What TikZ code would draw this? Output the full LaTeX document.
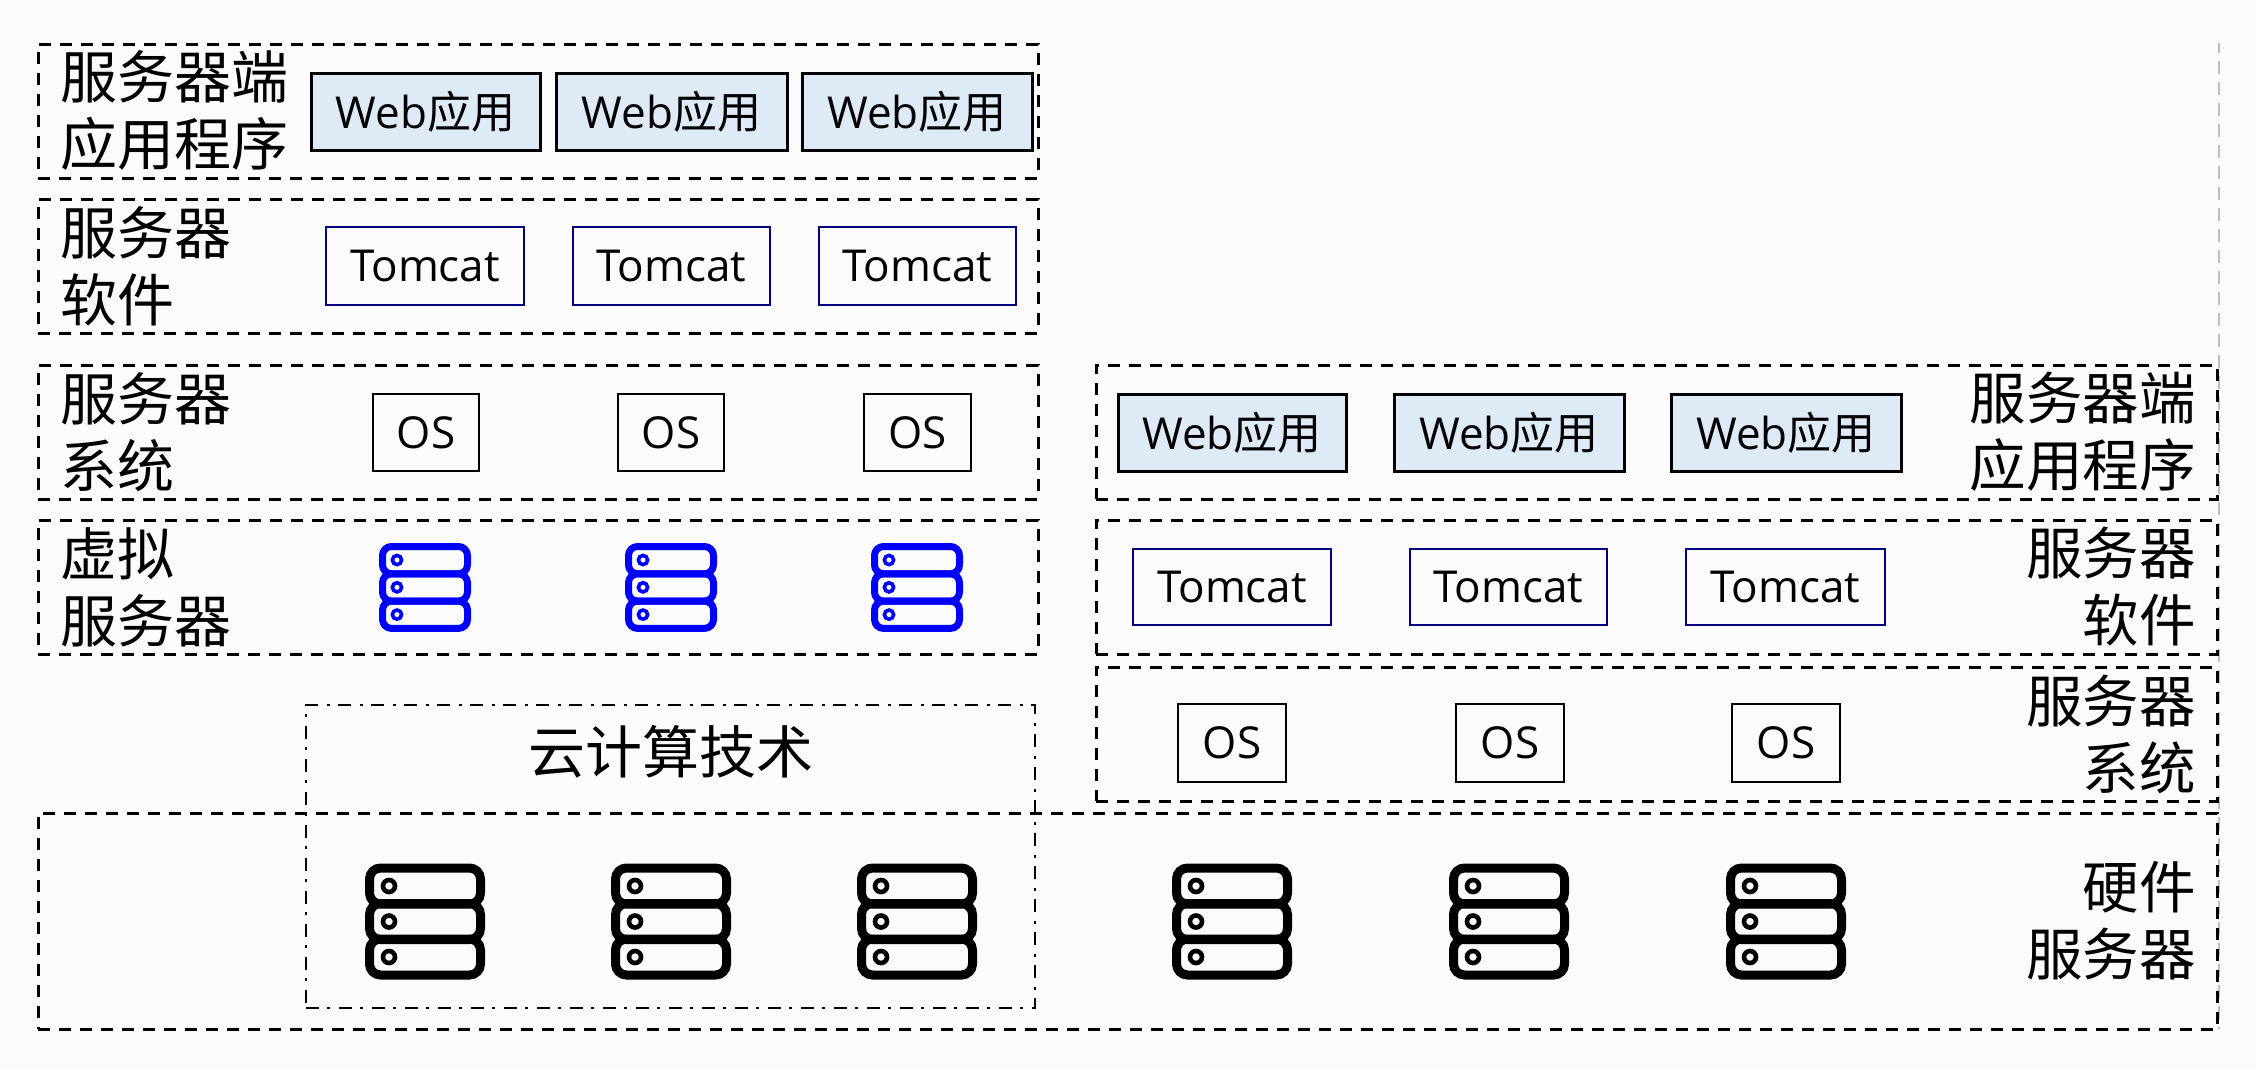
\documentclass[tikz,border=0pt]{standalone}
\usepackage{fontspec}
\setmainfont{Open Sans}
\newfontfamily\cjk{Noto Sans CJK SC}
\definecolor{pagebg}{HTML}{FBFBFB}
\definecolor{webfill}{HTML}{DEEAF6}
\definecolor{tomnavy}{HTML}{000080}
\definecolor{vmblue}{HTML}{0000FF}
\definecolor{faintline}{HTML}{BEBEBE}
\newcommand{\cornerbox}[7]{% name x1 y1 x2 y2 style text
  \pgfmathsetmacro{\bcx}{(#2+#4)/2}\pgfmathsetmacro{\bcy}{(#3+#5)/2}%
  \pgfmathsetmacro{\bw}{#4-#2}\pgfmathsetmacro{\bh}{#5-#3}%
  \node[#6,minimum width=\bw pt,minimum height=\bh pt] (#1) at (\bcx,\bcy) {#7};}
\tikzset{
  x=1pt,y=-1pt,
  framebox/.style={draw=black,line width=3pt,dash pattern=on 12pt off 9pt,inner sep=0pt,outer sep=0pt},
  cloudbox/.style={draw=black,line width=2.6pt,dash pattern=on 13pt off 8pt on 3pt off 9pt,inner sep=0pt,outer sep=0pt},
  webbox/.style={draw=black,fill=webfill,line width=3pt,inner sep=0pt,outer sep=0pt,font=\fontsize{44}{50}\selectfont},
  tombox/.style={draw=tomnavy,line width=2.7pt,inner sep=0pt,outer sep=0pt,font=\fontsize{44}{50}\selectfont},
  osbox/.style={draw=black,line width=2.7pt,inner sep=0pt,outer sep=0pt,font=\fontsize{44}{50}\selectfont},
  lefttag/.style={anchor=west,align=left,inner sep=0pt,font=\cjk\fontsize{57}{67}\selectfont},
  righttag/.style={anchor=east,align=right,inner sep=0pt,font=\cjk\fontsize{56.5}{67}\selectfont},
  cloudtag/.style={inner sep=0pt,font=\cjk\fontsize{57}{67}\selectfont},
  faintrule/.style={draw=faintline,line width=1.2pt,dash pattern=on 13pt off 8pt,dash phase=3pt},
  hwrack/.pic={
    \foreach \yy in {0,35.5,71}{
      \draw[black,line width=9pt,rounded corners=11pt] (-55.5,-53+\yy) rectangle (55.5,-17+\yy);
      \draw[black,line width=4.6pt] (-36,-35+\yy) circle[radius=6pt];
    }
  },
  vmrack/.pic={
    \foreach \yy in {0,27.3,54.6}{
      \draw[vmblue,line width=7pt,rounded corners=9pt] (-42.5,-41+\yy) rectangle (42.5,-13.7+\yy);
      \draw[vmblue,line width=3.6pt] (-28,-27.5+\yy) circle[radius=4.6pt];
    }
  }
}
\begin{document}
\begin{tikzpicture}
\useasboundingbox[fill=pagebg] (0,0) rectangle (2256,1069);
% faint rule at the right edge
\coordinate (ruletop) at (2219,43);
\coordinate (rulebot) at (2219,1029);
\draw[faintrule] (ruletop) -- (rulebot);
% frames
\cornerbox{fa}{38}{44}{1038}{178}{framebox}{}
\cornerbox{fb}{38}{199}{1038}{333}{framebox}{}
\cornerbox{fc}{38}{365}{1038}{499}{framebox}{}
\cornerbox{fd}{38}{520}{1038}{654}{framebox}{}
\cornerbox{ra}{1096}{365}{2217}{499}{framebox}{}
\cornerbox{rb}{1096}{520}{2217}{654}{framebox}{}
\cornerbox{rc}{1096}{667}{2217}{801}{framebox}{}
\cornerbox{hw}{38}{813}{2217}{1029}{framebox}{}
\cornerbox{cloud}{306}{705}{1035}{1008}{cloudbox}{}
% left labels
\node[lefttag] (la) at (60,111) {服务器端\\应用程序};
\node[lefttag] (lb) at (60,266) {服务器\\软件};
\node[lefttag] (lc) at (60,432) {服务器\\系统};
\node[lefttag] (ld) at (60,587) {虚拟\\服务器};
% right labels
\node[righttag] (ta) at (2196,432) {服务器端\\应用程序};
\node[righttag] (tb) at (2196,587) {服务器\\软件};
\node[righttag] (tc) at (2196,734) {服务器\\系统};
\node[righttag] (td) at (2196,921) {硬件\\服务器};
\node[cloudtag] (ct) at (671,752) {云计算技术};
% left web
\cornerbox{wa}{311}{73}{540}{150}{webbox}{Web{\cjk 应用}}
\cornerbox{wb}{556}{73}{787}{150}{webbox}{Web{\cjk 应用}}
\cornerbox{wc}{802}{73}{1032}{150}{webbox}{Web{\cjk 应用}}
% left tomcat
\cornerbox{tma}{326}{227}{524}{305}{tombox}{Tomcat}
\cornerbox{tmb}{573}{227}{770}{305}{tombox}{Tomcat}
\cornerbox{tmc}{819}{227}{1016}{305}{tombox}{Tomcat}
% left os
\cornerbox{osa}{373}{394}{479}{471}{osbox}{OS}
\cornerbox{osb}{618}{394}{724}{471}{osbox}{OS}
\cornerbox{osc}{864}{394}{971}{471}{osbox}{OS}
% right web
\cornerbox{xa}{1118}{394}{1346}{471}{webbox}{Web{\cjk 应用}}
\cornerbox{xb}{1394}{394}{1624}{471}{webbox}{Web{\cjk 应用}}
\cornerbox{xc}{1671}{394}{1901}{471}{webbox}{Web{\cjk 应用}}
% right tomcat
\cornerbox{ya}{1133}{549}{1331}{625}{tombox}{Tomcat}
\cornerbox{yb}{1410}{549}{1607}{625}{tombox}{Tomcat}
\cornerbox{yc}{1686}{549}{1885}{625}{tombox}{Tomcat}
% right os
\cornerbox{za}{1178}{704}{1286}{782}{osbox}{OS}
\cornerbox{zb}{1456}{704}{1564}{782}{osbox}{OS}
\cornerbox{zc}{1732}{704}{1840}{782}{osbox}{OS}
% racks
\pic (va) at (425,587.5) {vmrack};
\pic (vb) at (671,587.5) {vmrack};
\pic (vc) at (917,587.5) {vmrack};
\pic (ha) at (425,921) {hwrack};
\pic (hb) at (671,921) {hwrack};
\pic (hc) at (917,921) {hwrack};
\pic (hd) at (1232,921) {hwrack};
\pic (he) at (1509,921) {hwrack};
\pic (hf) at (1786,921) {hwrack};
\end{tikzpicture}
\end{document}
